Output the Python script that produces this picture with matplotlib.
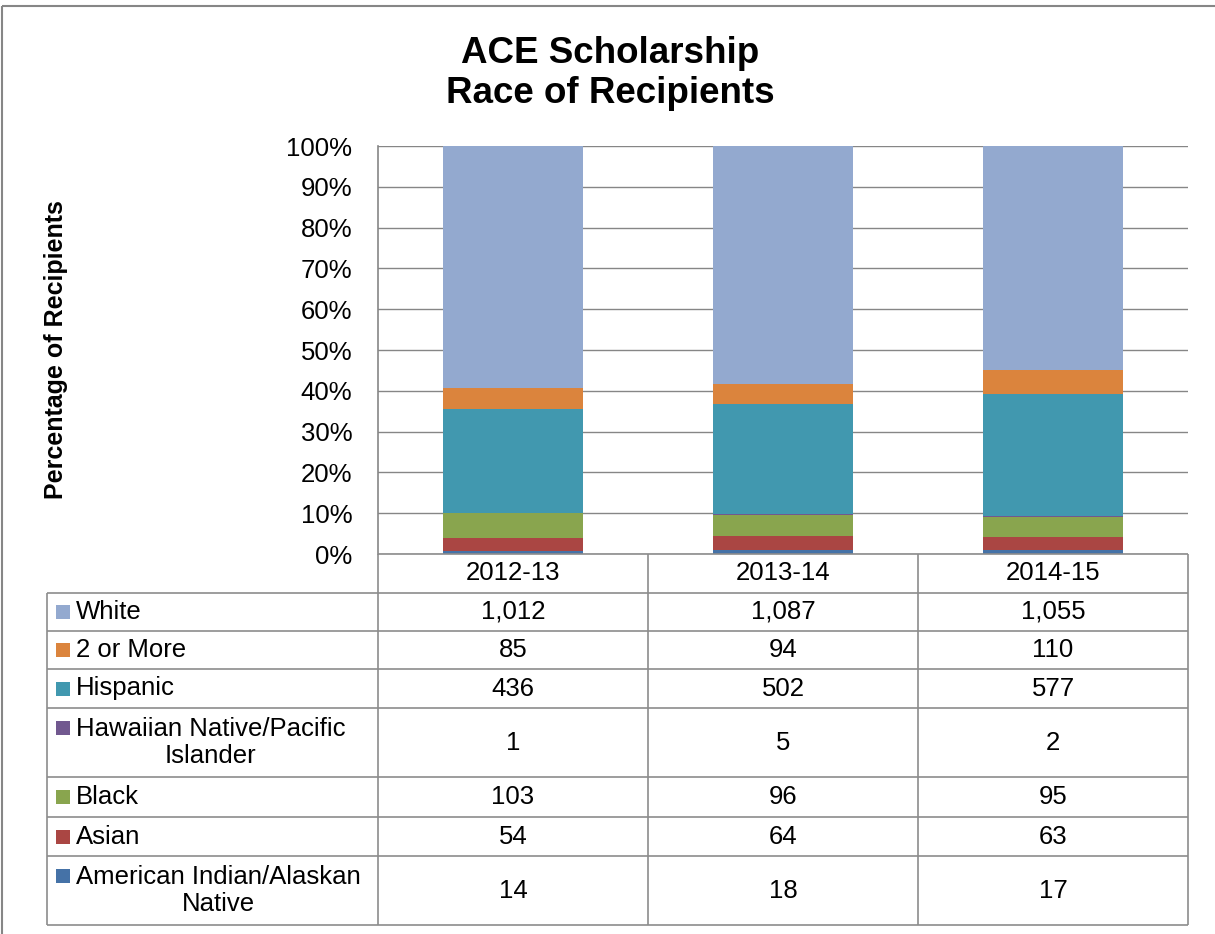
## ACE Scholarship - race of recipients, 100% stacked bars with a data table below
import numpy as np
import matplotlib.pyplot as plt
from matplotlib.patches import Rectangle

plt.rcParams['font.family'] = ['Liberation Sans', 'DejaVu Sans']

# Data (counts per school year)
years = ['2012-13', '2013-14', '2014-15']
groups = ['White', '2 or More', 'Hispanic', 'Hawaiian Native/Pacific\nIslander',
          'Black', 'Asian', 'American Indian/Alaskan\nNative']
white = [1012, 1087, 1055]
two_or_more = [85, 94, 110]
hispanic = [436, 502, 577]
hawaiian = [1, 5, 2]
black = [103, 96, 95]
asian = [54, 64, 63]
american_indian = [14, 18, 17]
colors = ['#93A9CF', '#DB843D', '#4198AF', '#71588F', '#89A54E', '#AA4643', '#4572A7']

series = [white, two_or_more, hispanic, hawaiian, black, asian, american_indian]
counts = np.array(series, dtype=float)
totals = counts.sum(axis=0)
shares = counts / totals

W, H = 1215, 934
fig = plt.figure(figsize=(W / 100, H / 100), dpi=100)

# main plot area (pixel box 378..1188, 146..554)
ax = fig.add_axes([378 / W, (H - 554) / H, 810 / W, 408 / H])
x = np.arange(len(years))
bottom = np.zeros(len(years))
# stack from the bottom: last group in the table is the lowest segment
for vals, col in zip(shares[::-1], colors[::-1]):
    ax.bar(x, vals, width=0.515, bottom=bottom, color=col, linewidth=0, zorder=2)
    bottom += vals

ax.set_xlim(-0.5, 2.5)
ax.set_ylim(0, 1)
ax.set_yticks(np.arange(0, 1.01, 0.1))
ax.set_yticklabels([f'{int(round(v * 100))}%' for v in np.arange(0, 1.01, 0.1)])
ax.set_xticks([])
ax.tick_params(axis='y', length=0, pad=18.5, labelsize=18.5)
ax.grid(axis='y', color='#868686', linewidth=1.0, zorder=0)
ax.set_axisbelow(True)
for s in ['top', 'right', 'bottom']:
    ax.spines[s].set_visible(False)
ax.spines['left'].set_color('#868686')
ax.spines['left'].set_linewidth(1.2)

# titles
fig.text(610 / W, 1 - 63 / H, 'ACE Scholarship', ha='center', va='baseline',
         fontsize=26.5, fontweight='bold')
fig.text(610 / W, 1 - 103 / H, 'Race of Recipients', ha='center', va='baseline',
         fontsize=26.5, fontweight='bold')
fig.text(56 / W, 1 - 350 / H, 'Percentage of Recipients', rotation=90,
         ha='center', va='center', fontsize=18, fontweight='bold')

# data table drawn in pixel coordinates
tab = fig.add_axes([0, 0, 1, 1])
tab.set_xlim(0, W)
tab.set_ylim(H, 0)
tab.axis('off')
tab.patch.set_visible(False)

line_kw = dict(color='#8C8C8C', linewidth=1.2)
col_edges = [378, 648, 918, 1188]
row_edges = [593, 631, 669, 708, 777, 817, 856, 925]

tab.hlines(554, 378, 1188, **line_kw)
tab.hlines(row_edges, 47, 1188, **line_kw)
tab.vlines(col_edges, 554, 925, **line_kw)
tab.vlines(47, 593, 925, **line_kw)

# outer chart border
tab.hlines(6, 2, W, color='#868686', linewidth=1.5)
tab.vlines(2, 6, H, color='#868686', linewidth=1.5)

# header row
for i, yr in enumerate(years):
    tab.text((col_edges[i] + col_edges[i + 1]) / 2, (554 + 593) / 2, yr,
             ha='center', va='center', fontsize=18.5)

# body rows
for r, (name, vals, col) in enumerate(zip(groups, series, colors)):
    yc = (row_edges[r] + row_edges[r + 1]) / 2
    nlines = name.count('\n') + 1
    key_y = yc if nlines == 1 else yc - 15
    tab.add_patch(Rectangle((56, key_y - 7), 14, 14, color=col, linewidth=0))
    tab.text(76, yc, name, ha='left', va='center', multialignment='center',
             fontsize=18.5, linespacing=1.2)
    for i, v in enumerate(vals):
        tab.text((col_edges[i] + col_edges[i + 1]) / 2, yc, f'{v:,}',
                 ha='center', va='center', fontsize=18.5)

fig.savefig('out.png', dpi=100)
